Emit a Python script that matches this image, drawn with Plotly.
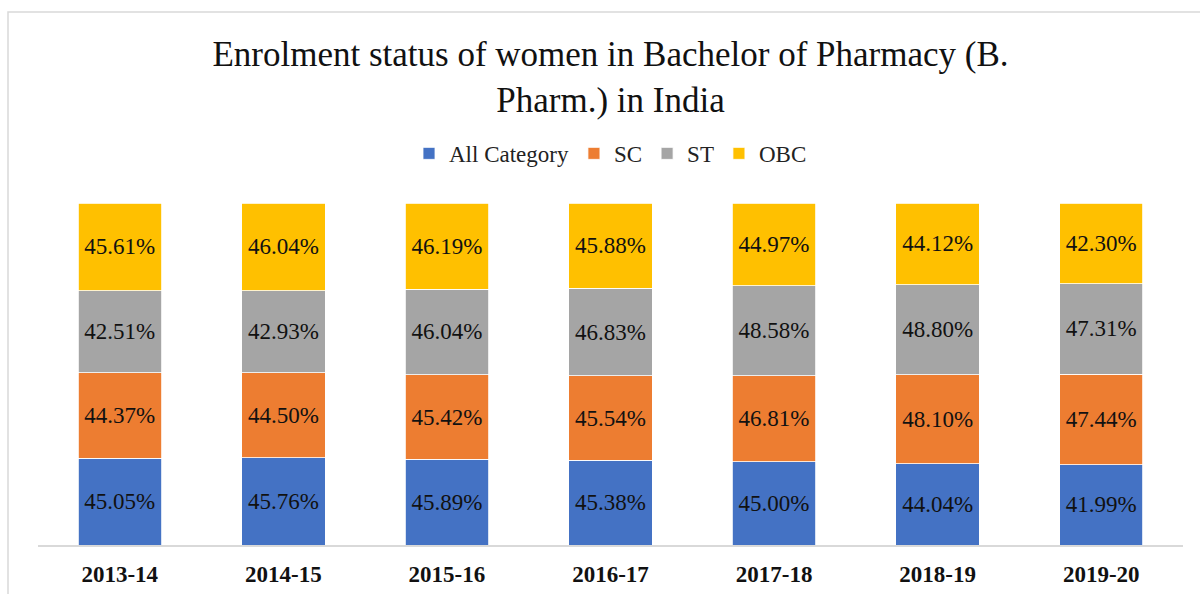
"""Enrolment of women in B. Pharm. — 100% stacked bar chart."""

import plotly.graph_objects as go

years = ["2013-14", "2014-15", "2015-16", "2016-17", "2017-18", "2018-19", "2019-20"]
all_category = [45.05, 45.76, 45.89, 45.38, 45.00, 44.04, 41.99]
sc = [44.37, 44.50, 45.42, 45.54, 46.81, 48.10, 47.44]
st = [42.51, 42.93, 46.04, 46.83, 48.58, 48.80, 47.31]
obc = [45.61, 46.04, 46.19, 45.88, 44.97, 44.12, 42.30]

series = [
    ("All Category", all_category, "#4472C4"),
    ("SC", sc, "#ED7D31"),
    ("ST", st, "#A5A5A5"),
    ("OBC", obc, "#FFC000"),
]

FONT = "Liberation Serif, Times New Roman, serif"

fig = go.Figure()
for name, vals, color in series:
    fig.add_trace(go.Bar(
        x=years, y=vals, name=name,
        marker=dict(color=color, line=dict(color="white", width=0.8)),
        text=[f"{v:.2f}%" for v in vals],
        textposition="inside", insidetextanchor="middle",
        textfont=dict(family=FONT, size=23, color="#111111"),
        constraintext="none",
    ))

fig.update_layout(
    barmode="stack", barnorm="percent", bargap=0.49,
    width=1200, height=594,
    margin=dict(l=38, r=17, t=203, b=49, autoexpand=False),
    paper_bgcolor="white", plot_bgcolor="white",
    font=dict(family=FONT, color="#111111"),
    title=dict(
        text="Enrolment status of women in Bachelor of Pharmacy (B.<br>Pharm.) in India",
        x=0.5, xref="paper", xanchor="center",
        y=1 - 66 / 594, yref="container", yanchor="middle",
        font=dict(family=FONT, size=35, color="#111111"),
    ),
    legend=dict(
        orientation="h", x=0.5, xanchor="center", y=1.145, yanchor="middle",
        font=dict(family=FONT, size=23, color="#222222"),
        itemwidth=30, traceorder="normal",
    ),
    shapes=[dict(
        type="rect", xref="paper", yref="paper",
        x0=(8 - 38) / 1145, x1=1.1, y0=-0.3, y1=(545 - 12) / 342,
        line=dict(color="#d9d9d9", width=1.5), fillcolor="rgba(0,0,0,0)",
    )],
)
fig.update_xaxes(
    showline=True, linecolor="#d9d9d9", linewidth=1.5, automargin=False,
    ticks="outside", ticklen=8, tickcolor="rgba(0,0,0,0)",
    tickfont=dict(family=FONT, size=23, color="#111111", weight="bold"),
    showgrid=False,
)
fig.update_yaxes(range=[0, 100], visible=False)

fig.write_html(
    "out.html",
    config={"displayModeBar": False},
    post_script="document.body.style.margin='0';",
)
